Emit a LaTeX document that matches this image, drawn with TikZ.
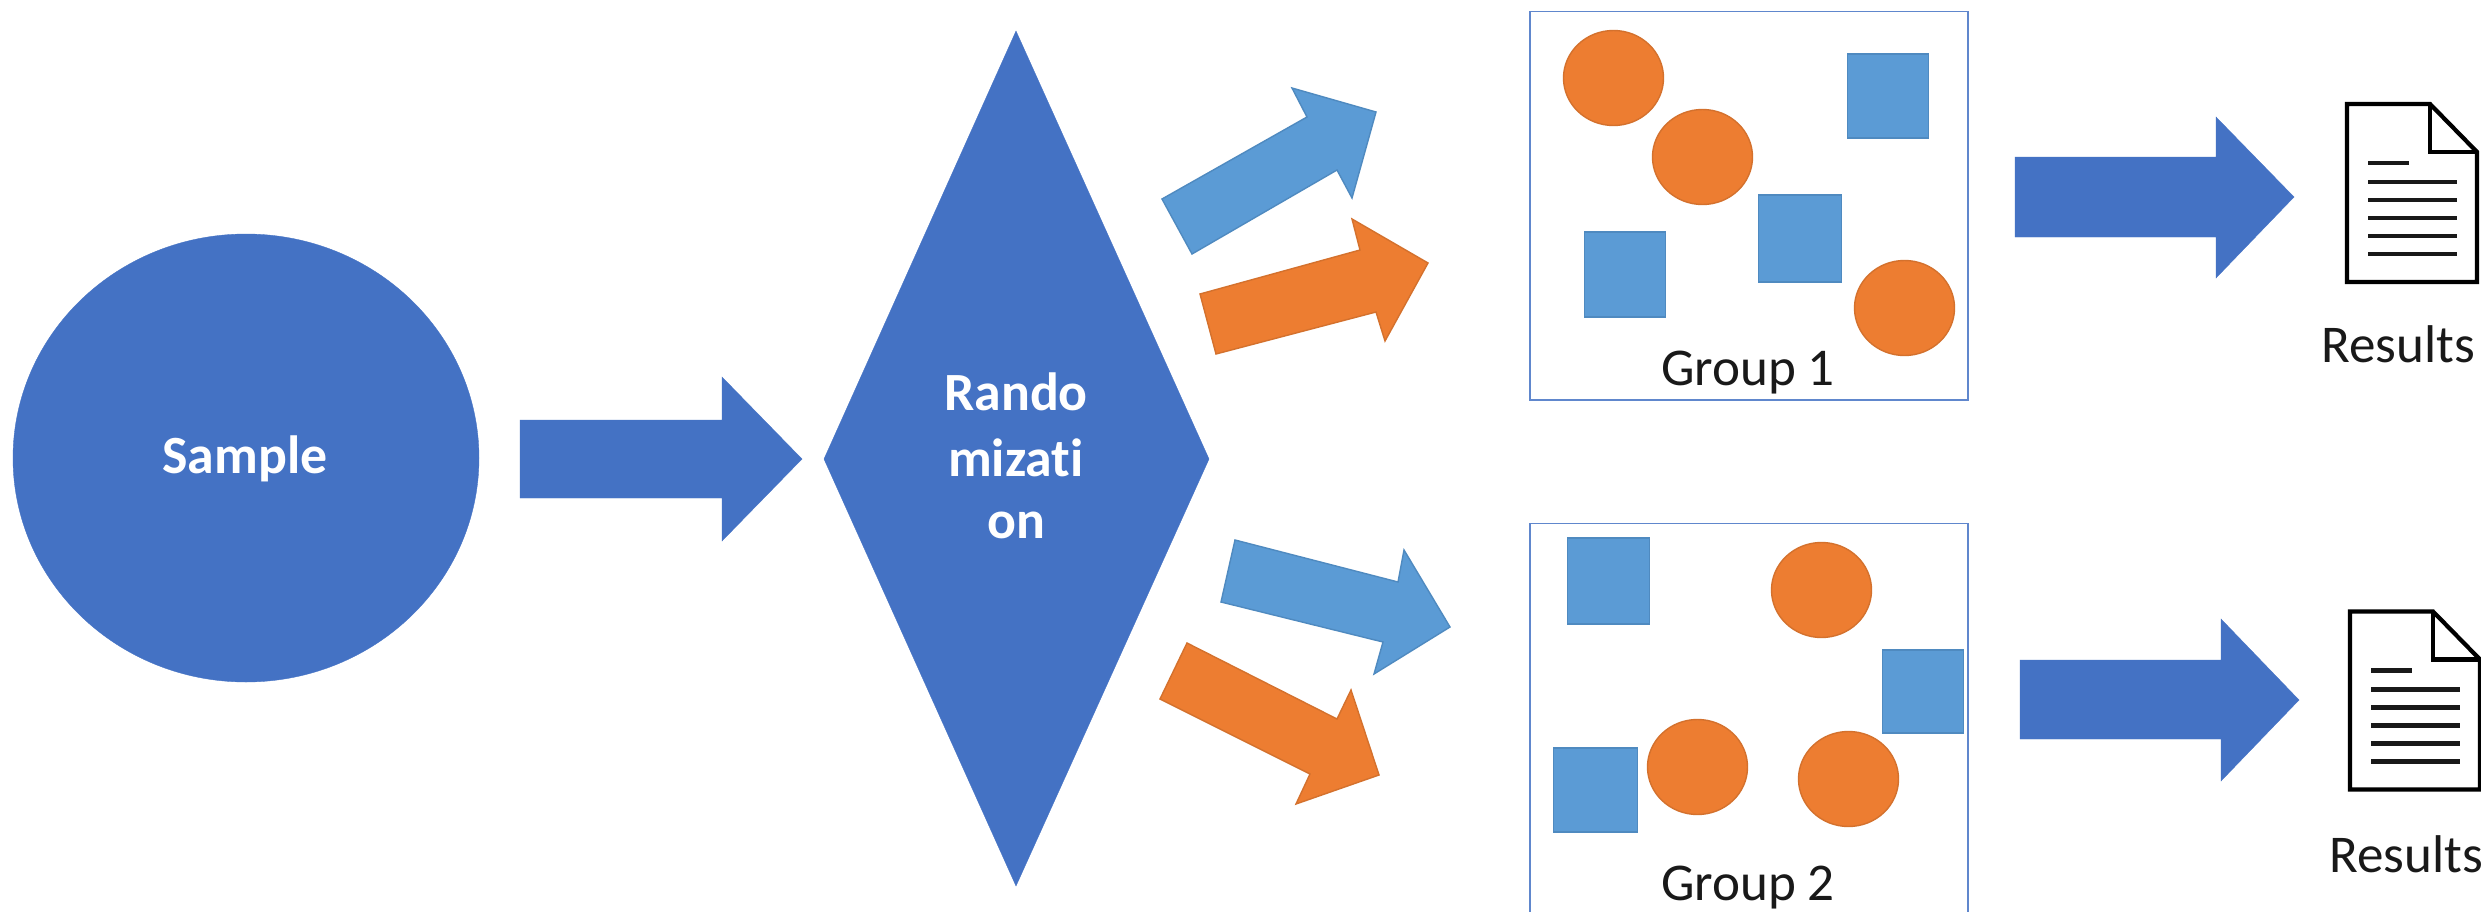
\documentclass[tikz,border=0pt]{standalone}
\usepackage{fontspec}
\setmainfont[Ligatures=NoCommon]{Carlito}
\definecolor{dkblue}{HTML}{4472C4}
\definecolor{ltblue}{HTML}{5B9BD5}
\definecolor{orng}{HTML}{ED7D31}
\definecolor{ltedge}{HTML}{4F8AC0}
\definecolor{orgedge}{HTML}{D4712D}
\tikzset{
  bigshape/.style={fill=dkblue,draw=dkblue,line width=0.1pt},
  bluebit/.style={fill=ltblue,draw=ltedge,line width=0.4pt},
  orangebit/.style={fill=orng,draw=orgedge,line width=0.4pt},
  groupbox/.style={draw=dkblue!85!white,line width=0.55pt},
  docline/.style={draw=black,line width=1.2pt,line join=miter},
  docrule/.style={draw=black!90,line width=1.2pt},
  lightlabel/.style={text=white,font=\fontsize{15.3pt}{18pt}\selectfont\bfseries,align=center,inner sep=0pt},
  darklabel/.style={text=black!90,font=\fontsize{15.1pt}{18pt}\selectfont,anchor=base,inner sep=0pt}
}
\newcommand{\docicon}[2]{%
  \begin{scope}[shift={(#1,#2)}]
    \draw[docline] (2347,104) -- (2430,104) -- (2477,152) -- (2477,282) -- (2347,282) -- cycle;
    \draw[docline] (2430,104) -- (2430,152) -- (2477,152);
    \draw[docrule] (2368,163) -- (2409,163);
    \foreach \yy in {182,200,218,236,254} \draw[docrule] (2368,\yy) -- (2457,\yy);
  \end{scope}}
\begin{document}
\begin{tikzpicture}[x=0.01cm,y=-0.01cm]
\clip (0,0) rectangle (2481,912);
\fill[white] (0,0) rectangle (2481,912);
% sample
\draw[bigshape] (246,458) ellipse [x radius=233,y radius=224];
\node[lightlabel] (sample) at (245,459) {Sample};
% arrow
\draw[bigshape] (520,420) -- (722,420) -- (722,377) -- (802,459) -- (722,541) -- (722,498) -- (520,498) -- cycle;
% diamond
\draw[bigshape] (1016,31) -- (1209,459) -- (1016,886) -- (824,459) -- cycle;
\node[lightlabel] (rando) at (1016,392) {Rando};
\node[lightlabel] (mizati) at (1016,458) {mizati};
\node[lightlabel] (on) at (1016,525) {on};
% split arrows
\draw[bluebit] (1162,199) -- (1307,117) -- (1292,88) -- (1376,112) -- (1352,198) -- (1337,170) -- (1192,254) -- cycle;
\draw[orangebit] (1200,294) -- (1360,250) -- (1352,219) -- (1428,263) -- (1385,341) -- (1376,312) -- (1216,354) -- cycle;
\draw[bluebit] (1235,540) -- (1398,582) -- (1404,550) -- (1450,627) -- (1374,674) -- (1383,642) -- (1221,602) -- cycle;
\draw[orangebit] (1187,643) -- (1337,719) -- (1351,690) -- (1379,775) -- (1296,804) -- (1310,774) -- (1160,699) -- cycle;
% group 1
\draw[groupbox] (1530,11.5) rectangle (1968,400);
\begin{scope}[shift={(0.5,1)}]
\draw[orangebit] (1613,77) ellipse [x radius=50,y radius=47.5];
\draw[orangebit] (1702,156) ellipse [x radius=50,y radius=47.5];
\draw[orangebit] (1904,307) ellipse [x radius=50,y radius=47.5];
\draw[bluebit] (1847,53) rectangle (1928,137);
\draw[bluebit] (1758,194) rectangle (1841,281);
\draw[bluebit] (1584,231) rectangle (1665,316);
\end{scope}
\node[darklabel] (g1) at (1748,385) {Group 1};
% group 2
\draw[groupbox] (1530,523.5) rectangle (1968,930);
\begin{scope}[shift={(0.5,1)}]
\draw[bluebit] (1567,537) rectangle (1649,623);
\draw[bluebit] (1882,649) rectangle (1963,732);
\draw[bluebit] (1553,747) rectangle (1637,831);
\draw[orangebit] (1821,589) ellipse [x radius=50,y radius=47.5];
\draw[orangebit] (1697,766) ellipse [x radius=50,y radius=47.5];
\draw[orangebit] (1848,778) ellipse [x radius=50,y radius=47.5];
\end{scope}
\node[darklabel] (g2) at (1748,900) {Group 2};
% result arrows
\draw[bigshape] (2015,157) -- (2216,157) -- (2216,117) -- (2294,197) -- (2216,278) -- (2216,237) -- (2015,237) -- cycle;
\draw[bigshape] (2020,660) -- (2221,660) -- (2221,619) -- (2299,700) -- (2221,781) -- (2221,739) -- (2020,739) -- cycle;
% documents
\docicon{0}{0}
\docicon{3}{507.5}
\node[darklabel] (r1) at (2398,362) {Results};
\node[darklabel] (r2) at (2406,872) {Results};
\end{tikzpicture}
\end{document}
